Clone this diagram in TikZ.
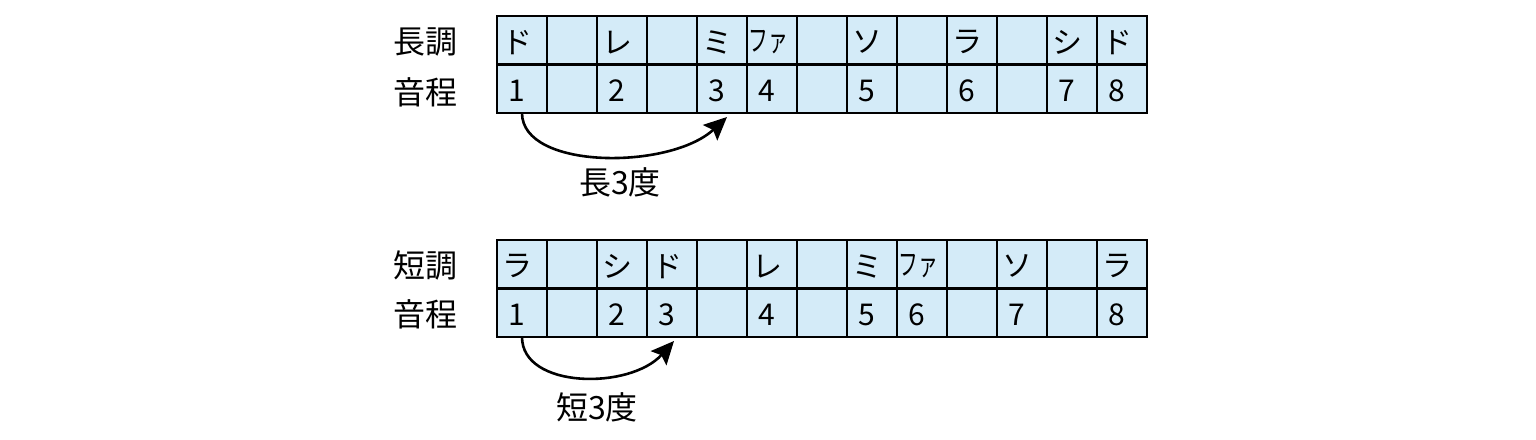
\documentclass[tikz,border=0pt]{standalone}
\usepackage{fontspec}
\usepackage{graphicx}
\newfontfamily\jp{Noto Sans CJK JP}
\usetikzlibrary{arrows.meta,calc}
\definecolor{cellblue}{RGB}{212,235,248}
\newcommand\faKana{\hspace*{3pt}\scalebox{0.66}[1]{ファ}}
\begin{document}
\begin{tikzpicture}[x=1pt,y=-1pt,
  cellbox/.style={draw=black, line width=2.7pt, fill=cellblue, minimum width=50pt, minimum height=48.5pt, inner sep=0pt, outer sep=0pt},
  celltext/.style={font=\jp\fontsize{30}{30}\selectfont, inner sep=0pt, anchor=center},
  rowlabel/.style={font=\jp\fontsize{32}{32}\selectfont, inner sep=0pt},
  intlabel/.style={font=\jp\fontsize{32}{32}\selectfont, inner sep=0pt},
  arc/.style={line width=2.6pt, -{Stealth[length=23pt,width=21pt,inset=4pt]}}]
\useasboundingbox (0,0) rectangle (1536,439);
% top table
\foreach \c in {1,...,13}{
  \node[cellbox] (a1\c) at ({522+50*(\c-1)},40.25) {};
  \node[cellbox] (a2\c) at ({522+50*(\c-1)},88.75) {};
}
\foreach \c/\t in {1/ド,3/レ,5/ミ,6/\faKana,8/ソ,10/ラ,12/シ,13/ド}
  \node[celltext] (an\c) at ($(a1\c)+(-5,2)$) {\t};
\foreach \c/\t in {1/1,3/2,5/3,6/4,8/5,10/6,12/7,13/8}
  \node[celltext] (ai\c) at ($(a2\c)+(-5,2)$) {\t};
\node[rowlabel] (lmaj) at (425.5,41.5) {長調};
\node[rowlabel] (lint1) at (425.5,92) {音程};
\draw[arc] (a21.south) .. controls ($(a21.south)+(0,57)$) and (670,170) .. ($(a25.south)+(5,4)$);
\node[intlabel] (maj3) at (620,182) {長3度};
% bottom table
\foreach \c in {1,...,13}{
  \node[cellbox] (b1\c) at ({522+50*(\c-1)},264.25) {};
  \node[cellbox] (b2\c) at ({522+50*(\c-1)},312.75) {};
}
\foreach \c/\t in {1/ラ,3/シ,4/ド,6/レ,8/ミ,9/\faKana,11/ソ,13/ラ}
  \node[celltext] (bn\c) at ($(b1\c)+(-5,2)$) {\t};
\foreach \c/\t in {1/1,3/2,4/3,6/4,8/5,9/6,11/7,13/8}
  \node[celltext] (bi\c) at ($(b2\c)+(-5,2)$) {\t};
\node[rowlabel] (lmin) at (425.5,265) {短調};
\node[rowlabel] (lint2) at (425.5,314) {音程};
\draw[arc] (b21.south) .. controls ($(b21.south)+(0,52)$) and (630,390) .. ($(b24.south)+(2,4)$);
\node[intlabel] (min3) at (597,407) {短3度};
\end{tikzpicture}
\end{document}
